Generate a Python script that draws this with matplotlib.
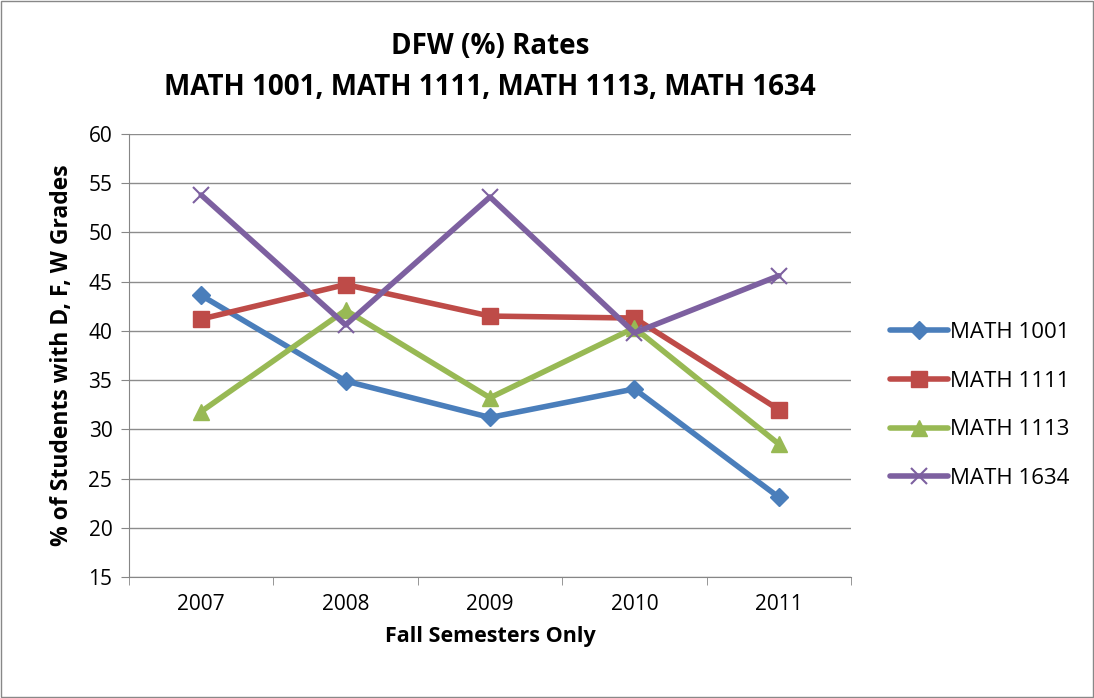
import matplotlib
matplotlib.use("Agg")
import matplotlib.pyplot as plt
from matplotlib.patches import Rectangle

plt.rcParams['font.family'] = ['Open Sans', 'DejaVu Sans']

# data
years = ["2007", "2008", "2009", "2010", "2011"]
math_1001 = [43.6, 34.9, 31.2, 34.1, 23.1]
math_1111 = [41.2, 44.7, 41.5, 41.3, 32.0]
math_1113 = [31.8, 42.1, 33.2, 40.3, 28.5]
math_1634 = [53.8, 40.6, 53.6, 39.8, 45.6]

series = [
    ("MATH 1001", math_1001, "#4a7ebb", "D", 9),
    ("MATH 1111", math_1111, "#be4b48", "s", 12),
    ("MATH 1113", math_1113, "#98b954", "^", 12),
    ("MATH 1634", math_1634, "#7d60a0", "x", 11),
]

fig = plt.figure(figsize=(10.94, 6.98), dpi=100)
fig.patches.append(Rectangle((0.001, 0.001), 0.998, 0.997, transform=fig.transFigure,
                             fill=False, edgecolor="#888888", linewidth=1))
ax = fig.add_axes([0.1179, 0.1734, 0.660, 0.6347])

x = list(range(len(years)))
for name, vals, color, marker, ms in series:
    ax.plot(x, vals, color=color, linewidth=4, marker=marker, markersize=ms,
            markeredgewidth=1.5 if marker == "x" else 1, markeredgecolor=color,
            label=name, solid_capstyle="round", solid_joinstyle="round")

ax.set_xlim(-0.5, 4.5)
ax.set_ylim(15, 60)
ax.set_yticks(range(15, 61, 5))
ax.set_xticks(x)
ax.set_xticklabels(years)
ax.set_xticks([i - 0.5 for i in range(6)], minor=True)
ax.tick_params(axis="x", which="major", length=0, pad=12, labelsize=15)
ax.tick_params(axis="x", which="minor", length=6, color="#868686")
ax.tick_params(axis="y", length=6, color="#868686", labelsize=15, pad=6)
ax.yaxis.grid(True, color="#8c8c8c", linewidth=1)
ax.set_axisbelow(True)
for s in ["top", "right"]:
    ax.spines[s].set_visible(False)
for s in ["left", "bottom"]:
    ax.spines[s].set_color("#868686")

ax.set_xlabel("Fall Semesters Only", fontsize=15.5, fontweight="bold", labelpad=8)
ax.set_ylabel("% of Students with D, F, W Grades", fontsize=16.5, fontweight="bold", labelpad=10)
fig.text(0.448, 0.933, "DFW (%) Rates", ha="center", va="center", fontsize=20, fontweight="bold")
fig.text(0.448, 0.875, "MATH 1001, MATH 1111, MATH 1113, MATH 1634", ha="center", va="center",
         fontsize=20, fontweight="bold")

ax.legend(loc="center left", bbox_to_anchor=(1.054, 0.387), frameon=False, fontsize=16,
          handlelength=2.6, labelspacing=1.25, handletextpad=0.1,
          borderpad=0, borderaxespad=0)

fig.savefig("out.png", dpi=100)
